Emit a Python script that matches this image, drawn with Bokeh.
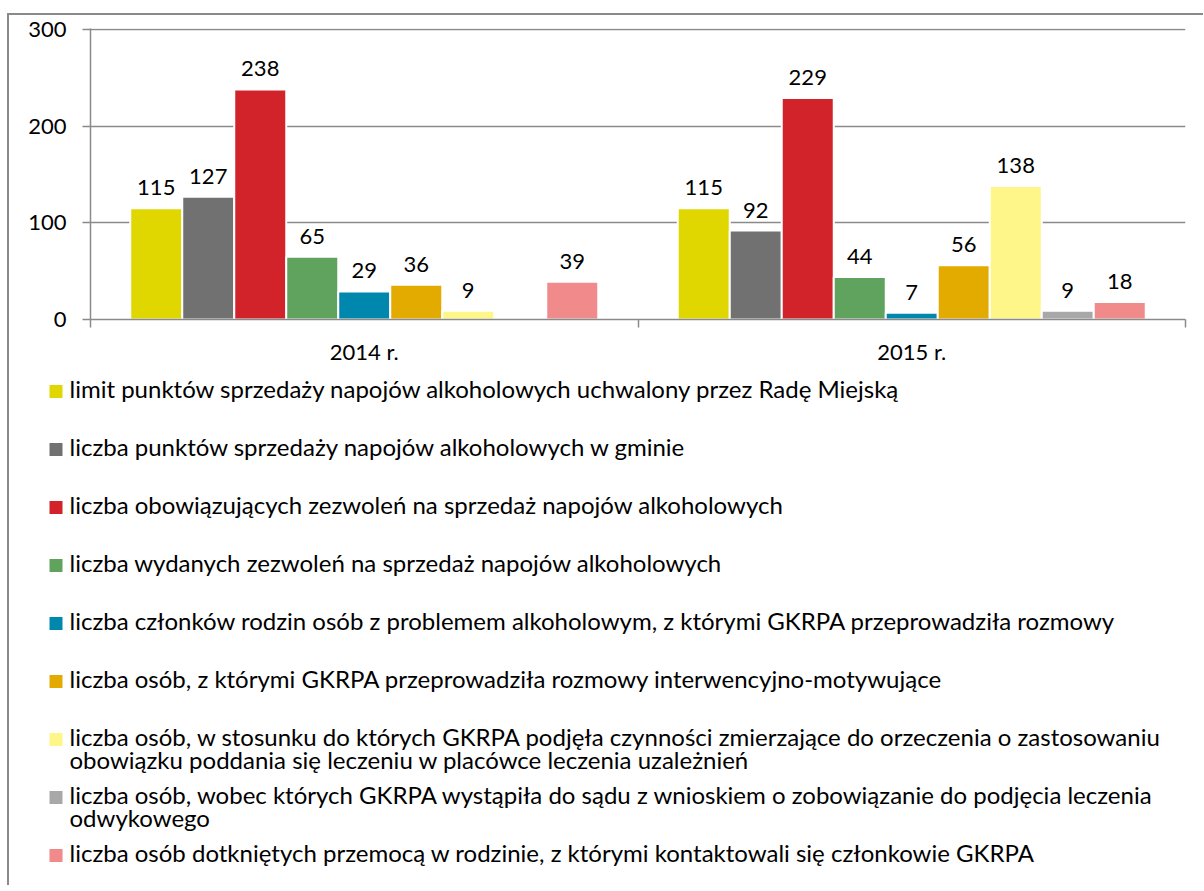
import math
from bokeh.plotting import figure
from bokeh.models import Range1d, LinearAxis, FixedTicker, ColumnDataSource
from bokeh.transform import dodge
from bokeh.layouts import column
from bokeh.core.properties import value
from bokeh.embed import file_html
from bokeh.resources import INLINE

# ---------------- data ----------------
years = ["2014 r.", "2015 r."]
series_names = [
    "limit punktów sprzedaży napojów alkoholowych uchwalony przez Radę Miejską",
    "liczba punktów sprzedaży napojów alkoholowych w gminie",
    "liczba obowiązujących zezwoleń na sprzedaż napojów alkoholowych",
    "liczba wydanych zezwoleń na sprzedaż napojów alkoholowych",
    "liczba członków rodzin osób z problemem alkoholowym, z którymi GKRPA przeprowadziła rozmowy",
    "liczba osób, z którymi GKRPA przeprowadziła rozmowy interwencyjno-motywujące",
    "liczba osób, w stosunku do których GKRPA podjęła czynności zmierzające do orzeczenia o zastosowaniu\nobowiązku poddania się leczeniu w placówce leczenia uzależnień",
    "liczba osób, wobec których GKRPA wystąpiła do sądu z wnioskiem o zobowiązanie do podjęcia leczenia\nodwykowego",
    "liczba osób dotkniętych przemocą w rodzinie, z którymi kontaktowali się członkowie GKRPA",
]
limit_punktow = [115, 115]
liczba_punktow = [127, 92]
obowiazujace_zezwolenia = [238, 229]
wydane_zezwolenia = [65, 44]
czlonkowie_rodzin = [29, 7]
rozmowy_interwencyjne = [36, 56]
czynnosci_leczenie = [9, 138]
wnioski_do_sadu = [float("nan"), 9]
przemoc_w_rodzinie = [39, 18]
series_values = [limit_punktow, liczba_punktow, obowiazujace_zezwolenia, wydane_zezwolenia,
                 czlonkowie_rodzin, rozmowy_interwencyjne, czynnosci_leczenie,
                 wnioski_do_sadu, przemoc_w_rodzinie]
y_ticks = [0, 100, 200, 300]

colors = ["#E1D700", "#717171", "#D2232A", "#5FA35F", "#0087AD",
          "#E3AB00", "#FFF68A", "#A8A8A8", "#F08A8B"]

FONT = "Lato"
GRID = "#8a8a8a"

# ---------------- chart ----------------
W = 1194
p = figure(width=W, height=355, output_backend="svg", toolbar_location=None,
           x_range=Range1d(0, len(years)), y_range=Range1d(0, 301),
           min_border_left=81, min_border_right=18, min_border_top=13, min_border_bottom=51)
p.frame_align = False
p.outline_line_color = None
p.background_fill_color = "white"
p.border_fill_color = "white"

# y axis
p.yaxis.ticker = FixedTicker(ticks=y_ticks)
p.yaxis.axis_line_color = GRID
p.yaxis.axis_line_width = 1.5
p.yaxis.major_tick_line_color = GRID
p.yaxis.major_tick_line_width = 1.5
p.yaxis.major_tick_out = 8
p.yaxis.major_tick_in = 0
p.yaxis.minor_tick_line_color = None
p.yaxis.major_label_text_font = FONT
p.yaxis.major_label_text_font_size = "22px"
p.yaxis.major_label_text_color = "#000000"
p.yaxis.major_label_standoff = 16

p.ygrid.ticker = FixedTicker(ticks=y_ticks[1:])
p.ygrid.grid_line_color = GRID
p.ygrid.grid_line_width = 1.5
p.xgrid.grid_line_color = None

# x axis: boundary ticks between the categories
bounds = list(range(len(years) + 1))
p.xaxis.ticker = FixedTicker(ticks=bounds)
p.xaxis.major_label_overrides = {b: "" for b in bounds}
p.xaxis.axis_line_color = GRID
p.xaxis.axis_line_width = 1.5
p.xaxis.major_tick_line_color = GRID
p.xaxis.major_tick_line_width = 1.5
p.xaxis.major_tick_out = 8
p.xaxis.major_tick_in = 0
p.xaxis.minor_tick_line_color = None
p.xaxis.major_label_text_font_size = "4px"
p.xaxis.major_label_standoff = 0

# x axis: category labels at centres
centres = [i + 0.5 for i in range(len(years))]
lab_axis = LinearAxis(ticker=FixedTicker(ticks=centres),
                      major_label_overrides={c: y for c, y in zip(centres, years)})
lab_axis.axis_line_color = None
lab_axis.major_tick_line_color = None
lab_axis.minor_tick_line_color = None
lab_axis.major_label_text_font = FONT
lab_axis.major_label_text_font_size = "22px"
lab_axis.major_label_text_color = "#000000"
lab_axis.major_label_standoff = 4
p.add_layout(lab_axis, "below")

n = len(series_values)
unit = 52 / 547.5
for i, (vals, col) in enumerate(zip(series_values, colors)):
    src = ColumnDataSource(dict(xc=centres, v=vals))
    off = (i - (n - 1) / 2) * unit
    p.vbar(x=dodge("xc", off), top="v", bottom=0, width=unit, source=src,
           fill_color=col, line_color="white", line_width=2)
    keep = [k for k, v in enumerate(vals) if not (isinstance(v, float) and math.isnan(v))]
    lsrc = ColumnDataSource(dict(xc=[centres[k] for k in keep],
                                 v=[vals[k] for k in keep],
                                 lab=[str(int(vals[k])) for k in keep]))
    p.text(x=dodge("xc", off), y="v", text="lab", source=lsrc,
           text_align="center", text_baseline="bottom", y_offset=-13,
           text_font=value(FONT), text_font_size="22px", text_color="#000000")

# ---------------- legend ----------------
LH = 515
row_px = 58
top_px = 21
leg = figure(width=W, height=LH, output_backend="svg", toolbar_location=None,
             x_range=Range1d(9, 9 + W),
             y_range=Range1d((LH - top_px) / row_px, -top_px / row_px),
             x_axis_type=None, y_axis_type=None,
             min_border=0, min_border_left=0, min_border_right=0,
             min_border_top=0, min_border_bottom=0)
leg.frame_align = False
leg.outline_line_color = None
leg.xgrid.grid_line_color = None
leg.ygrid.grid_line_color = None
leg.background_fill_color = "white"
leg.border_fill_color = "white"

rows = list(range(n))
lg = ColumnDataSource(dict(r=rows, name=series_names, color=colors,
                           mx=[55.5] * n, tx=[69] * n))
leg.scatter(x="mx", y="r", marker="square", size=13, fill_color="color",
            line_color=None, source=lg)
leg.text(x="tx", y="r", text="name", source=lg, text_align="left",
         text_baseline="top", y_offset=-17.5, text_line_height=0.78,
         text_font=value(FONT), text_font_size="24px", text_color="#000000")

layout = column(p, leg, spacing=0,
                styles={"border-left": "2px solid #8a8a8a",
                        "border-top": "2px solid #8a8a8a",
                        "margin-top": "13px",
                        "margin-left": "7px"})

open("out.html", "w").write(file_html(layout, INLINE))
